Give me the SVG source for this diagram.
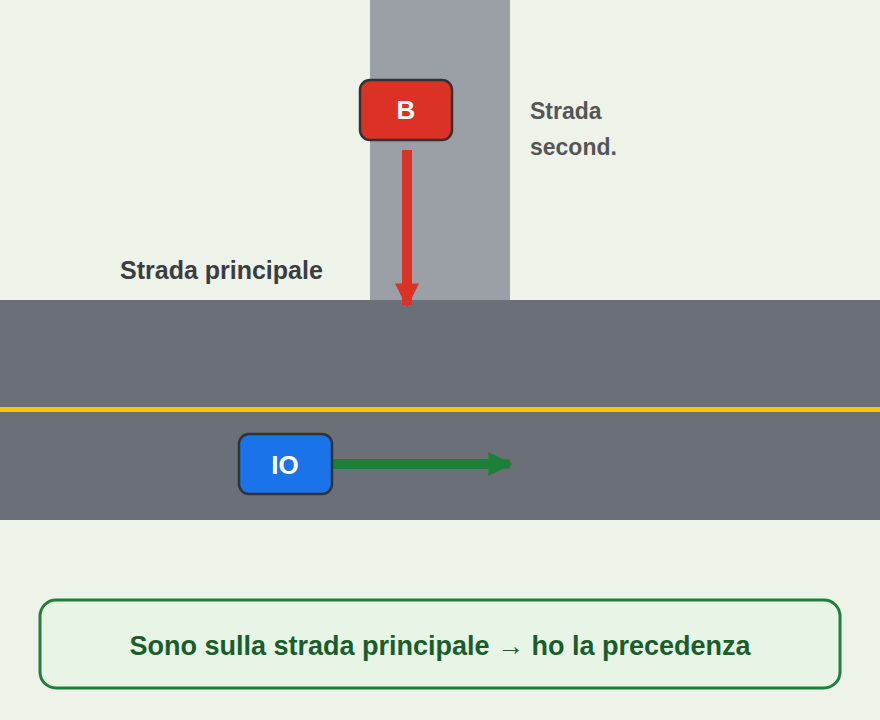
<svg xmlns="http://www.w3.org/2000/svg" width="880" height="720" viewBox="0 0 880 720">
<style>
.lbl{font-family:"Liberation Sans",Arial,sans-serif;font-weight:bold}
.car{stroke:#333;stroke-width:2.5}
</style>
<defs>
<marker id="ar" viewBox="0 0 10 10" refX="9" refY="5" markerWidth="4" markerHeight="4" orient="auto" markerUnits="strokeWidth"><path d="M0,0L10,5L0,10z" fill="context-stroke"/></marker>
<marker id="ar-r" viewBox="0 0 10 10" refX="9" refY="5" markerWidth="2.6" markerHeight="2.4" orient="auto" markerUnits="strokeWidth"><path d="M0,0L10,5L0,10z" fill="#dc3125"/></marker>
<marker id="ar-g" viewBox="0 0 10 10" refX="9" refY="5" markerWidth="2.6" markerHeight="2.4" orient="auto" markerUnits="strokeWidth"><path d="M0,0L10,5L0,10z" fill="#1e8038"/></marker>
</defs>
<rect width="880" height="720" fill="#eef3ea"/>
<rect x="370" y="0" width="140" height="300" fill="#9ba0a7"/>
<rect x="0" y="300" width="880" height="220" fill="#6b7078"/>
<rect x="0" y="407" width="880" height="5" fill="#f5c800"/>
<text class="lbl" x="530" y="119" font-size="23" fill="#555">Strada</text>
<text class="lbl" x="530" y="155" font-size="23" fill="#555">second.</text>
<text class="lbl" x="120" y="279" font-size="25" fill="#3a3d42">Strada principale</text>
<g id="connectors">
<line x1="407" y1="150" x2="407" y2="305" stroke="#dc3125" stroke-width="10" marker-end="url(#ar-r)"/>
<line x1="332" y1="464" x2="510" y2="464" stroke="#1e8038" stroke-width="10" marker-end="url(#ar-g)"/>
</g>
<g id="B"><rect class="car" x="360" y="80" width="92" height="60" rx="10" fill="#dc3125"/><text class="lbl" x="406" y="119" font-size="26" fill="#fff" text-anchor="middle">B</text></g>
<g id="IO"><rect class="car" x="239" y="434" width="93" height="60" rx="10" fill="#1a73e8"/><text class="lbl" x="285" y="474" font-size="26" fill="#fff" text-anchor="middle">IO</text></g>
<g id="note"><rect x="40" y="600" width="800" height="88" rx="16" fill="#e8f4e6" stroke="#1e8038" stroke-width="3"/><text class="lbl" x="440" y="655" font-size="27" fill="#175e2a" text-anchor="middle">Sono sulla strada principale → ho la precedenza</text></g>
</svg>
